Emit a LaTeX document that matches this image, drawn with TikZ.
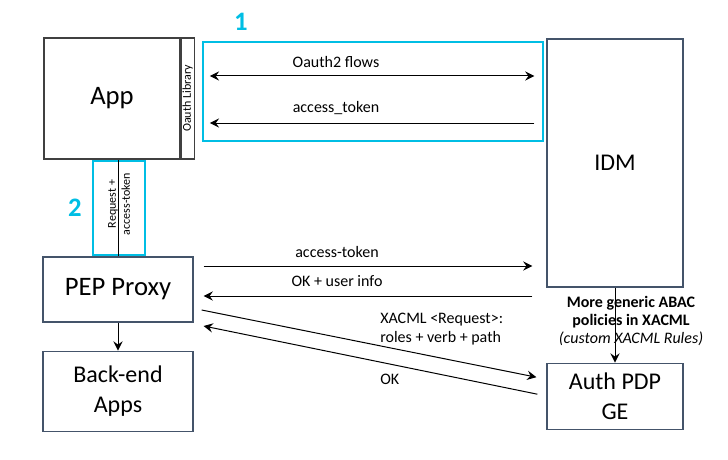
\documentclass[tikz,border=0pt]{standalone}
\usepackage{fontspec}
\setmainfont{Carlito}
\usetikzlibrary{positioning, arrows.meta}
\definecolor{callout}{RGB}{0,190,228}
\definecolor{slate}{RGB}{68,84,106}

\begin{document}
\begin{tikzpicture}[
  x=0.75pt, y=-0.75pt,
  >={Stealth[length=7pt,width=7pt,inset=2.5pt]},
  box/.style={draw=slate, line width=0.9pt, inner sep=0pt, align=center},
  appbox/.style={draw=black!75, line width=0.9pt, inner sep=0pt},
  flow/.style={draw=black, line width=0.75pt},
  callbox/.style={draw=callout, line width=2.2pt, inner sep=0pt},
  callnum/.style={text=callout, font=\fontsize{20}{24}\selectfont\bfseries},
  lbl/.style={font=\fontsize{12}{14}\selectfont, inner sep=0pt},
  small/.style={font=\fontsize{9}{10.5}\selectfont, inner sep=0pt, align=center}
]
\useasboundingbox (0,0) rectangle (728,460);

% application side
\node[appbox, minimum width=102pt, minimum height=90.75pt,
  font=\fontsize{20}{24}\selectfont] (app) at (112,98.5) {App};
\node[appbox, minimum width=9.75pt, minimum height=90.75pt,
  label={[small, rotate=90]center:Oauth Library}] (lib) [right=0pt of app] {};
\node[box, minimum width=112.5pt, minimum height=48.75pt,
  font=\fontsize{20}{24}\selectfont] (pep) at (118,289.5) {PEP Proxy};
\node[box, minimum width=112.5pt, minimum height=60pt,
  font=\fontsize{18}{22}\selectfont] (backend) [below=21pt of pep] {Back-end\\Apps};

% identity side
\node[box, minimum width=102pt, minimum height=186pt,
  font=\fontsize{18}{22}\selectfont] (idm) at (615,163) {IDM};
\node[box, minimum width=102pt, minimum height=49.5pt,
  font=\fontsize{18}{22}\selectfont] (pdp) [below=56.25pt of idm] {Auth PDP\\GE};

% callouts
\node[callbox, minimum width=255pt, minimum height=74.25pt] (oauthbox) at (373,91.5) {};
\node[callnum] (num1) at (241,22) {1};
\node[callbox, minimum width=39pt, minimum height=70.5pt] (reqbox) at (119,208) {};
\node[callnum] (num2) at (75,208) {2};
\node[small, rotate=90] (reqtext) at (119,204) {Request +\\access-token};

% connectors
\draw[flow, <->] ([shift={(15,-22.5)}]lib.east) -- ([shift={(-12,-87)}]idm.west);
\draw[flow, ->] ([shift={(-12,-40)}]idm.west) -- ([shift={(15,24.5)}]lib.east);
\draw[flow] (pep.north) -- (pep.north |- app.south);
\draw[flow, ->] ([shift={(10,-23.5)}]pep.east) -- ([shift={(-14,103)}]idm.west);
\draw[flow, ->] ([shift={(-14,133)}]idm.west) -- ([shift={(10,6.5)}]pep.east);
\draw[flow, ->] ([shift={(8,20.5)}]pep.east) -- ([shift={(-10,-19)}]pdp.west);
\draw[flow, ->] ([shift={(-9,-2)}]pdp.west) -- ([shift={(10,36.5)}]pep.east);
\draw[flow, ->] (pep.south) -- (backend.north);
\draw[flow, ->] (idm.south) -- (pdp.north);

% labels
\node[lbl] (lflows) at (336,62) {Oauth2 flows};
\node[lbl] (ltoken) at (336,108) {access\_token};
\node[lbl] (lacc) at (337,252) {access-token};
\node[lbl] (luser) at (337,281) {OK + user info};
\node[lbl, anchor=west, align=left] (lxacml) at (380,329) {XACML <Request>:\\roles + verb + path};
\node[lbl, anchor=west] (lok) at (380,379) {OK};
\node[lbl, align=center, font=\fontsize{12}{13.5}\selectfont] (labac) at (631,321)
  {\textbf{More generic ABAC}\\\textbf{policies in XACML}\\\textit{(custom XACML Rules)}};
\end{tikzpicture}
\end{document}
